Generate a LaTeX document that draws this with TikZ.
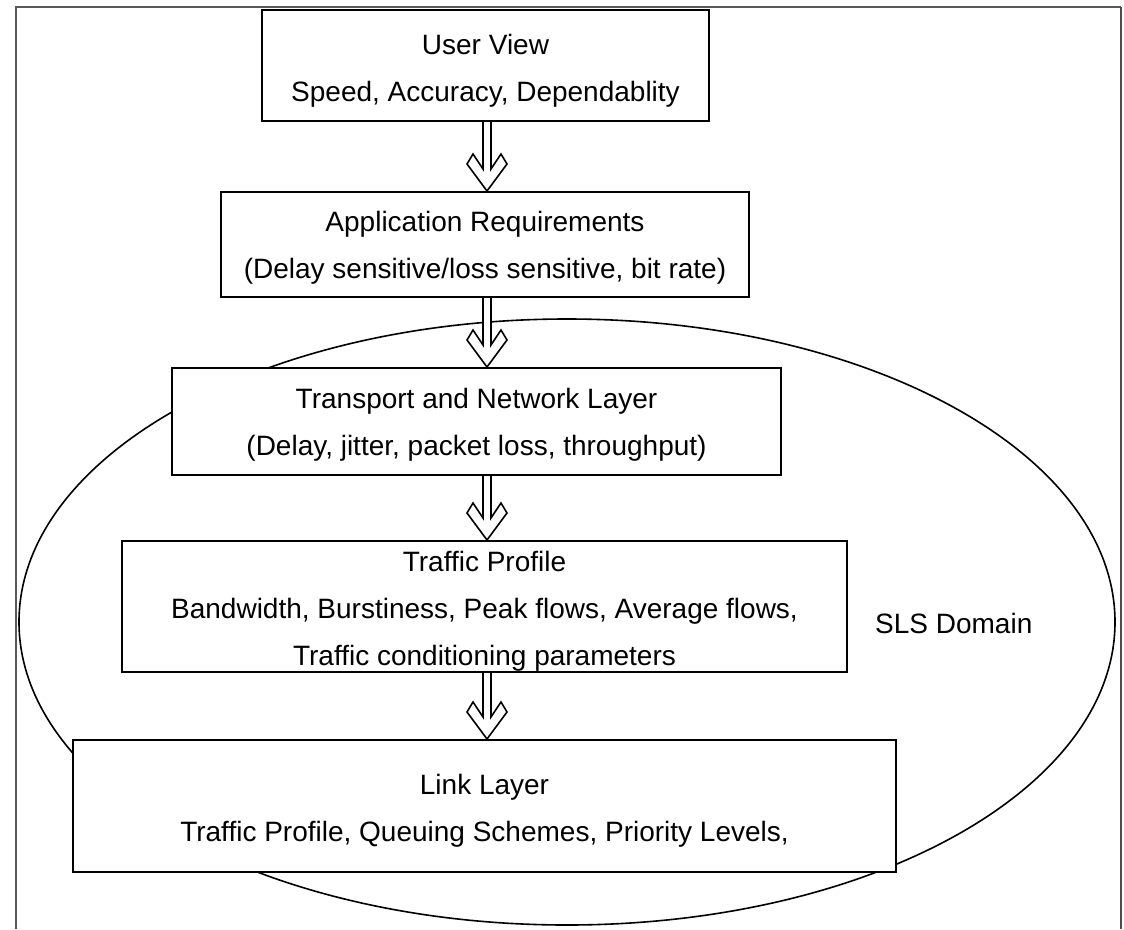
\documentclass[tikz,border=0pt]{standalone}
\usepackage{fontspec}
\setmainfont{Liberation Sans}
\usetikzlibrary{calc}

\tikzset{
  layerbox/.style = {draw, line width=2pt, fill=white, inner sep=0pt},
  boxtext/.style = {align=center, inner sep=0pt, font=\fontsize{28}{47}\selectfont},
  flow/.style = {draw, line width=1.6pt, fill=white, line join=miter},
  slsline/.style = {line width=1.6pt},
}

% hollow double-line arrow from the bottom of #1 to the top of #2
\newcommand{\flowarrow}[2]{%
  \path (#1.south -| ax) coordinate (s) (#2.north -| ax) coordinate (t);
  \draw[flow] ($(s)+(-4,0)$) -- ($(t)+(-4,-22)$) -- ($(t)+(-14,-37)$)
    -- ($(t)+(-20,-27)$) -- (t) -- ($(t)+(20,-27)$) -- ($(t)+(14,-37)$)
    -- ($(t)+(4,-22)$) -- ($(s)+(4,0)$);
}

\begin{document}
\begin{tikzpicture}[x=1pt, y=-1pt]
  \useasboundingbox (0,0) rectangle (1124,929);
  % frame
  \draw[gray!70!black, line width=1.5pt] (16,929) -- (16,7) -- (1121,7);
  \draw[black!70, line width=2.5pt] (1121,7) -- (1121,929);
  % SLS domain
  \draw[slsline] (567,622) ellipse [x radius=548, y radius=303];
  \node[boxtext, anchor=base west] (sls) at (875,633) {SLS Domain};

  \coordinate (ax) at (487,0);
  \node[layerbox, minimum width=447pt, minimum height=111pt,
    label={[boxtext, below=24.6pt]north:{User View\\Speed, Accuracy, Dependablity}}]
    (user) at (485.5,65.5) {}; % top
  \node[layerbox, minimum width=528pt, minimum height=105pt,
    label={[boxtext, below=19.6pt]north:{Application Requirements\\(Delay sensitive/loss sensitive, bit rate)}}]
    (app) at (485,244.5) {};
  \node[layerbox, minimum width=609pt, minimum height=107pt,
    label={[boxtext, below=20.6pt]north:{Transport and Network Layer\\(Delay, jitter, packet loss, throughput)}}]
    (net) at (476.5,421.5) {};
  \node[layerbox, minimum width=725pt, minimum height=131pt,
    label={[boxtext, below=10.6pt]north:{Traffic Profile\\Bandwidth, Burstiness, Peak flows, Average flows,\\Traffic conditioning parameters}}]
    (traffic) at (484.5,606.5) {};
  \node[layerbox, minimum width=823pt, minimum height=132pt,
    label={[boxtext, below=34.6pt]north:{Link Layer\\Traffic Profile, Queuing Schemes, Priority Levels,}}]
    (link) at (484.5,806) {}; % bottom

  \flowarrow{user}{app}
  \flowarrow{app}{net}
  \flowarrow{net}{traffic}
  \flowarrow{traffic}{link}
\end{tikzpicture}
\end{document}
